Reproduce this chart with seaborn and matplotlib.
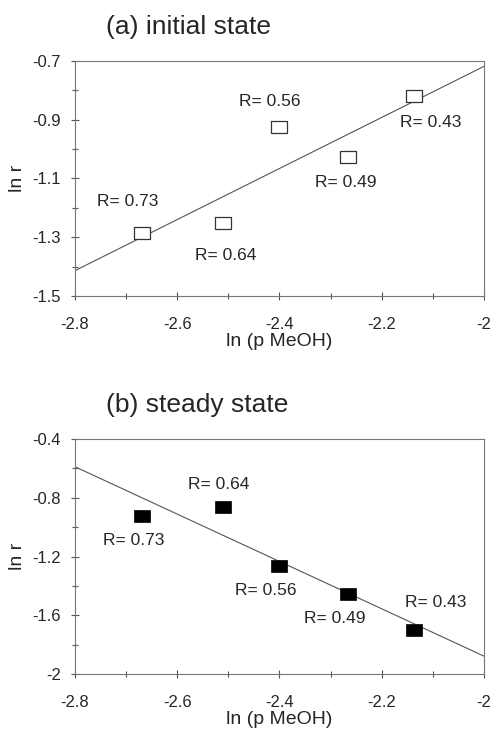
import matplotlib
matplotlib.use('Agg')
import matplotlib.pyplot as plt
from matplotlib.path import Path
from matplotlib.ticker import FixedLocator, MultipleLocator, FuncFormatter
import seaborn as sns
import pandas as pd
import numpy as np

# data
ln_p_meoh = [-2.669, -2.510, -2.400, -2.265, -2.136]
r_labels = ['R= 0.73', 'R= 0.64', 'R= 0.56', 'R= 0.49', 'R= 0.43']
ln_r_initial = [-1.287, -1.253, -0.924, -1.028, -0.821]
ln_r_steady = [-0.922, -0.861, -1.262, -1.455, -1.700]

# label offsets (points) from each marker
offs_initial = [(-10, 23), (2, -23), (-7, 18), (-2, -18), (12, -19)]
offs_steady = [(-6, -18), (-3, 16), (-10, -18), (-10, -18), (15, 20)]

sns.set_style('white')
plt.rcParams['font.family'] = ['Liberation Sans', 'DejaVu Sans']
plt.rcParams['axes.unicode_minus'] = False

rect = Path([(-1.45, -1), (1.45, -1), (1.45, 1), (-1.45, 1), (-1.45, -1)],
            [Path.MOVETO, Path.LINETO, Path.LINETO, Path.LINETO, Path.CLOSEPOLY])

fig = plt.figure(figsize=(4.92, 7.29), dpi=100)
ax1 = fig.add_axes([0.1524, 0.5940, 0.8313, 0.3224])
ax2 = fig.add_axes([0.1524, 0.0754, 0.8313, 0.3224])

fmt = FuncFormatter(lambda v, p: '%g' % round(v, 2))


def draw_panel(ax, y, offs, filled, ylim, ymaj, title, ty):
    df = pd.DataFrame({'x': ln_p_meoh, 'y': y})
    ax.set_xlim(-2.8, -2.0)
    ax.set_ylim(*ylim)
    sns.regplot(data=df, x='x', y='y', ax=ax, scatter=False, ci=None,
                truncate=False, color='#555555', line_kws={'linewidth': 0.8})
    if filled:
        sns.scatterplot(data=df, x='x', y='y', ax=ax, marker=rect, s=140,
                        color='black', edgecolor='black', linewidth=0.5, zorder=3)
    else:
        sns.scatterplot(data=df, x='x', y='y', ax=ax, marker=rect, s=140,
                        facecolor='white', edgecolor='#333333', linewidth=0.9, zorder=3)
    for xi, yi, lab, (dx, dy) in zip(ln_p_meoh, y, r_labels, offs):
        ax.annotate(lab, (xi, yi), xytext=(dx, dy), textcoords='offset points',
                    ha='center', va='center', fontsize=12.5)

    yt = np.arange(ylim[0], ylim[1] + 1e-9, ymaj)
    ax.xaxis.set_major_locator(MultipleLocator(0.2))
    ax.xaxis.set_minor_locator(MultipleLocator(0.1))
    ax.yaxis.set_major_locator(FixedLocator(yt))
    ax.yaxis.set_minor_locator(FixedLocator(yt[:-1] + ymaj / 2))
    ax.xaxis.set_major_formatter(fmt)
    ax.yaxis.set_major_formatter(fmt)
    ax.set_xlim(-2.8, -2.0)
    ax.set_ylim(*ylim)

    ax.tick_params(which='major', direction='inout', length=6, width=0.8,
                   color='#555555', labelsize=12, bottom=True, left=True)
    ax.tick_params(axis='x', which='major', pad=12)
    ax.tick_params(axis='y', which='major', pad=7)
    ax.tick_params(which='minor', direction='inout', length=5, width=0.8,
                   color='#555555', bottom=True, left=True)
    for sp in ax.spines.values():
        sp.set_color('#777777')
        sp.set_linewidth(0.8)

    ax.set_xlabel('ln (p MeOH)', fontsize=14, labelpad=1)
    ax.set_ylabel('ln r', fontsize=14, labelpad=5)
    fig.text(0.216, ty, title, fontsize=19, va='baseline', ha='left')


draw_panel(ax1, ln_r_initial, offs_initial, False, (-1.5, -0.7), 0.2,
           '(a) initial state', 0.953)
draw_panel(ax2, ln_r_steady, offs_steady, True, (-2.0, -0.4), 0.4,
           '(b) steady state', 0.435)

fig.savefig('out.png', dpi=100)
